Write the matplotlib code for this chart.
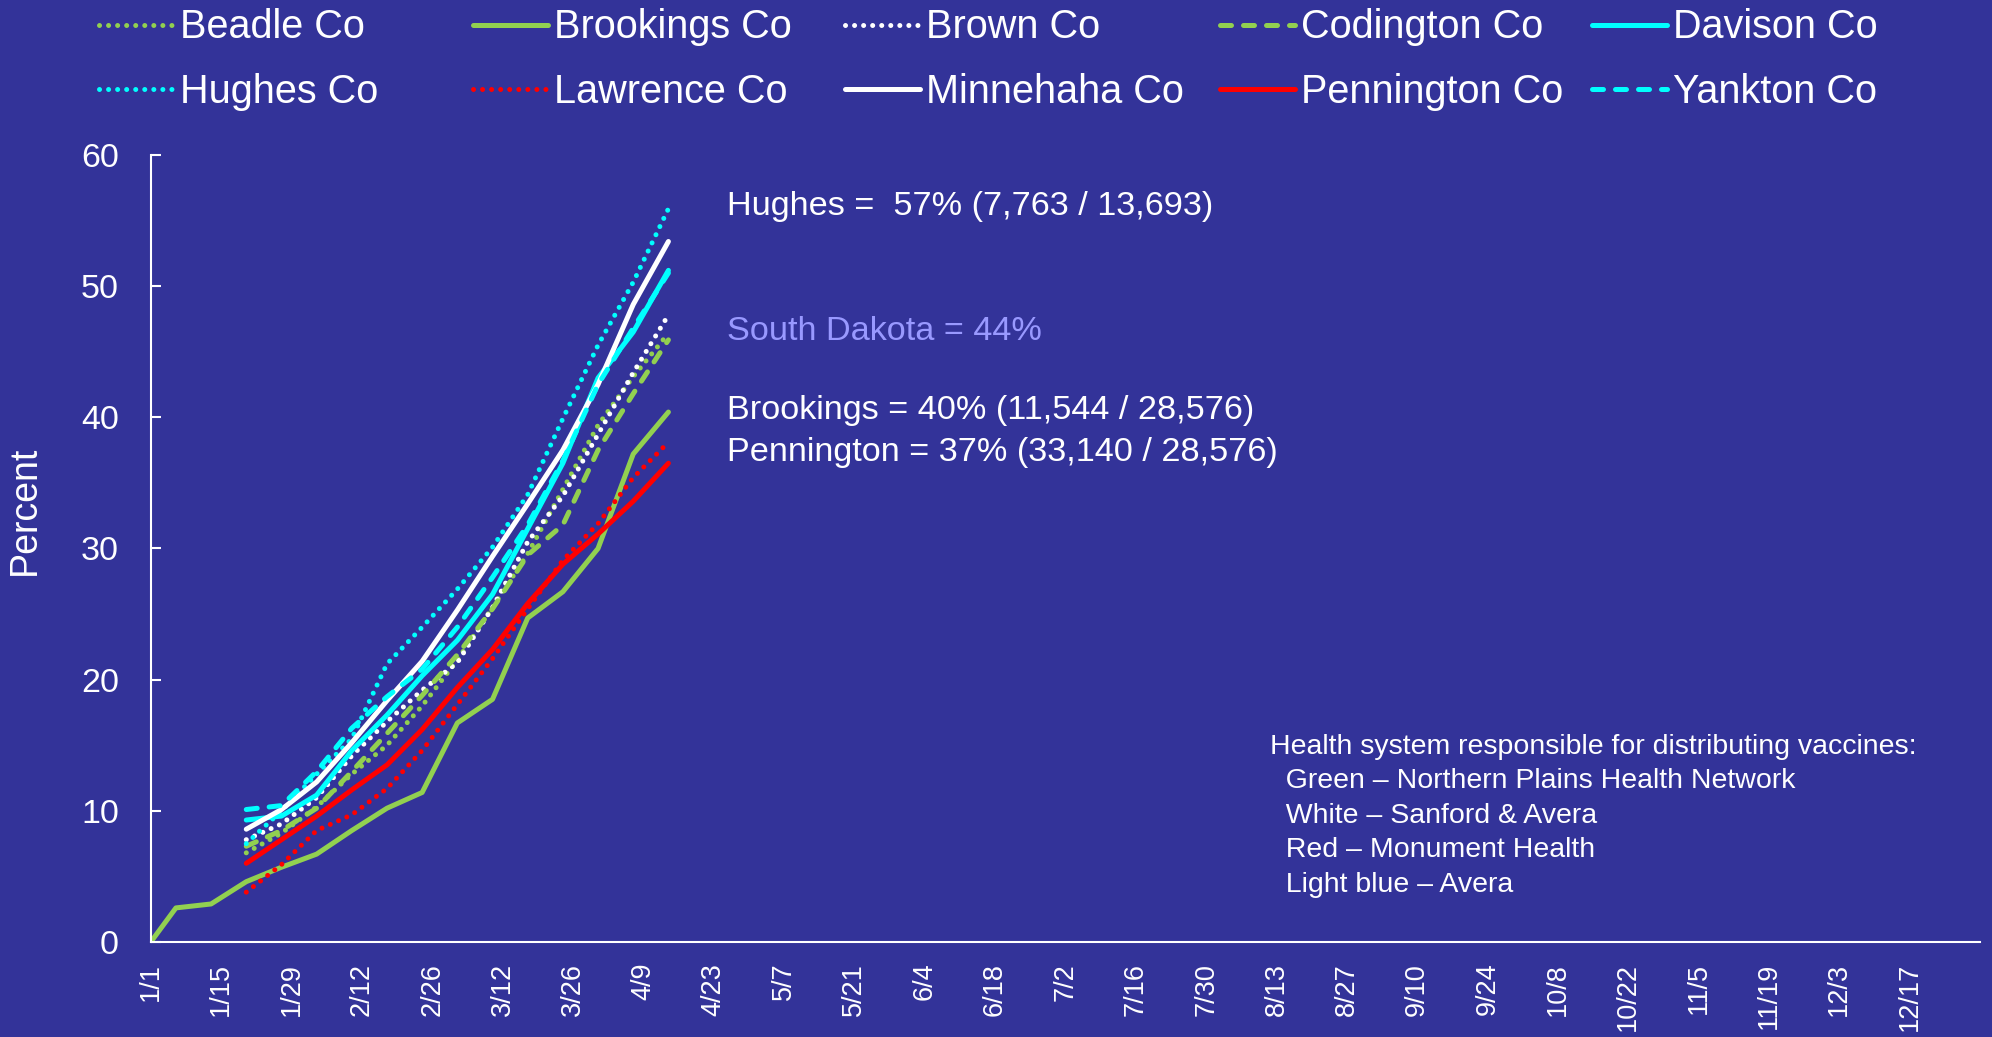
import matplotlib
matplotlib.use('Agg')
import matplotlib.pyplot as plt
import pandas as pd

plt.rcParams['font.family'] = ['Liberation Sans', 'DejaVu Sans']

# weekly dates for the county series
weeks = pd.date_range('2021-01-20', periods=13, freq='7D')
brookings_dates = pd.to_datetime(['2021-01-01', '2021-01-06', '2021-01-13']).append(weeks)

beadle = [6.8, 8.3, 10.3, 12.8, 15.0, 18.0, 21.5, 25.5, 29.6, 34.5, 39.4, 43.1, 46.4]
brookings = [0, 2.6, 2.9, 4.6, 5.7, 6.7, 8.5, 10.2, 11.4, 16.7, 18.5, 24.7, 26.7, 30.0, 37.2, 40.4]
brown = [7.8, 9.0, 11.0, 14.2, 16.8, 19.2, 21.3, 25.5, 30.5, 34.0, 38.7, 43.4, 47.8]
codington = [7.3, 8.5, 10.2, 13.0, 15.9, 18.8, 21.9, 25.4, 29.5, 31.8, 37.5, 41.8, 45.9]
davison = [9.3, 9.6, 11.2, 14.6, 17.3, 20.3, 23.0, 26.5, 31.5, 36.5, 43.0, 46.5, 51.2]
hughes = [7.5, 10.0, 12.8, 15.5, 21.2, 24.0, 26.9, 30.1, 34.1, 39.9, 45.5, 50.3, 55.9]
lawrence = [3.8, 5.9, 8.5, 9.7, 11.7, 14.6, 18.1, 21.6, 25.4, 29.1, 31.9, 35.4, 38.1]
minnehaha = [8.6, 10.1, 12.2, 15.2, 18.4, 21.4, 25.3, 29.4, 33.4, 37.5, 42.5, 48.6, 53.4]
pennington = [6.0, 7.8, 9.6, 11.6, 13.5, 16.2, 19.4, 22.3, 25.8, 28.8, 31.1, 33.6, 36.5]
yankton = [10.1, 10.4, 13.0, 16.3, 18.7, 20.8, 24.0, 27.8, 31.8, 36.7, 42.5, 46.8, 51.0]

tick_dates = pd.date_range('2021-01-01', periods=26, freq='14D')
tick_labels = [f'{d.month}/{d.day}' for d in tick_dates]

notes = ['Hughes =  57% (7,763 / 13,693)', 'South Dakota = 44%',
         'Brookings = 40% (11,544 / 28,576)', 'Pennington = 37% (33,140 / 28,576)']
health_lines = ['Health system responsible for distributing vaccines:',
                '  Green \u2013 Northern Plains Health Network',
                '  White \u2013 Sanford & Avera',
                '  Red \u2013 Monument Health',
                '  Light blue \u2013 Avera']

BG = '#333399'
GREEN = '#92D050'
CYAN = '#00FFFF'
RED = '#FF0000'
WHITE = '#FFFFFF'
DOT = (0, (0.01, 1.8))
DASH = (0, (2.2, 2.4))

fig = plt.figure(figsize=(19.92, 10.37), dpi=100, facecolor=BG)
ax = fig.add_axes([0.0757, 0.0916, 0.9183, 0.759])
ax.set_facecolor(BG)

lw = 3.6
series = [
    ('Beadle Co', weeks, beadle, GREEN, DOT),
    ('Brookings Co', brookings_dates, brookings, GREEN, '-'),
    ('Brown Co', weeks, brown, WHITE, DOT),
    ('Codington Co', weeks, codington, GREEN, DASH),
    ('Davison Co', weeks, davison, CYAN, '-'),
    ('Hughes Co', weeks, hughes, CYAN, DOT),
    ('Lawrence Co', weeks, lawrence, RED, DOT),
    ('Minnehaha Co', weeks, minnehaha, WHITE, '-'),
    ('Pennington Co', weeks, pennington, RED, '-'),
    ('Yankton Co', weeks, yankton, CYAN, DASH),
]
handles = []
for name, x, y, c, ls in series:
    h, = ax.plot(x, y, color=c, linestyle=ls, lw=lw, label=name,
                 dash_capstyle='round', solid_capstyle='round')
    handles.append(h)

ax.set_xlim(pd.Timestamp('2021-01-01'), pd.Timestamp('2021-12-31'))
ax.set_ylim(0, 60)
ax.set_yticks(range(0, 61, 10))
ax.set_xticks(tick_dates)
ax.set_xticklabels(tick_labels, rotation=90, va='top')
ax.tick_params(axis='y', direction='in', length=7, width=1.5, colors=WHITE,
               labelsize=24.5, pad=23)
ax.tick_params(axis='x', length=0, colors=WHITE, labelsize=19.5, pad=15)
for s in ['top', 'right']:
    ax.spines[s].set_visible(False)
for s in ['left', 'bottom']:
    ax.spines[s].set_color(WHITE)
    ax.spines[s].set_linewidth(1.5)

fig.text(25 / 1992, 1 - 510 / 1037, 'Percent', rotation=90, color=WHITE,
         fontsize=27, ha='center', va='center')

# legend: 5 columns, 2 rows, equal column widths
col_x = [99, 473, 845, 1220, 1592]
for i in range(5):
    fig.legend(handles=[handles[i], handles[i + 5]], loc='upper left',
               bbox_to_anchor=(col_x[i] / 1992, 1 - 8.5 / 1037), frameon=False,
               fontsize=28.5, labelcolor=WHITE, handlelength=1.9,
               handletextpad=0.15, borderpad=0, borderaxespad=0, labelspacing=0.66)

note_y = [207, 331, 410, 452]
note_c = [WHITE, '#9999FF', WHITE, WHITE]
for t, y, c in zip(notes, note_y, note_c):
    fig.text(727 / 1992, 1 - y / 1037, t, color=c, fontsize=24.7, va='center')

for i, t in enumerate(health_lines):
    fig.text(1270 / 1992, 1 - (747 + 34.4 * i) / 1037, t, color=WHITE,
             fontsize=20.5, va='center')

fig.savefig('out.png', dpi=100, facecolor=BG)
